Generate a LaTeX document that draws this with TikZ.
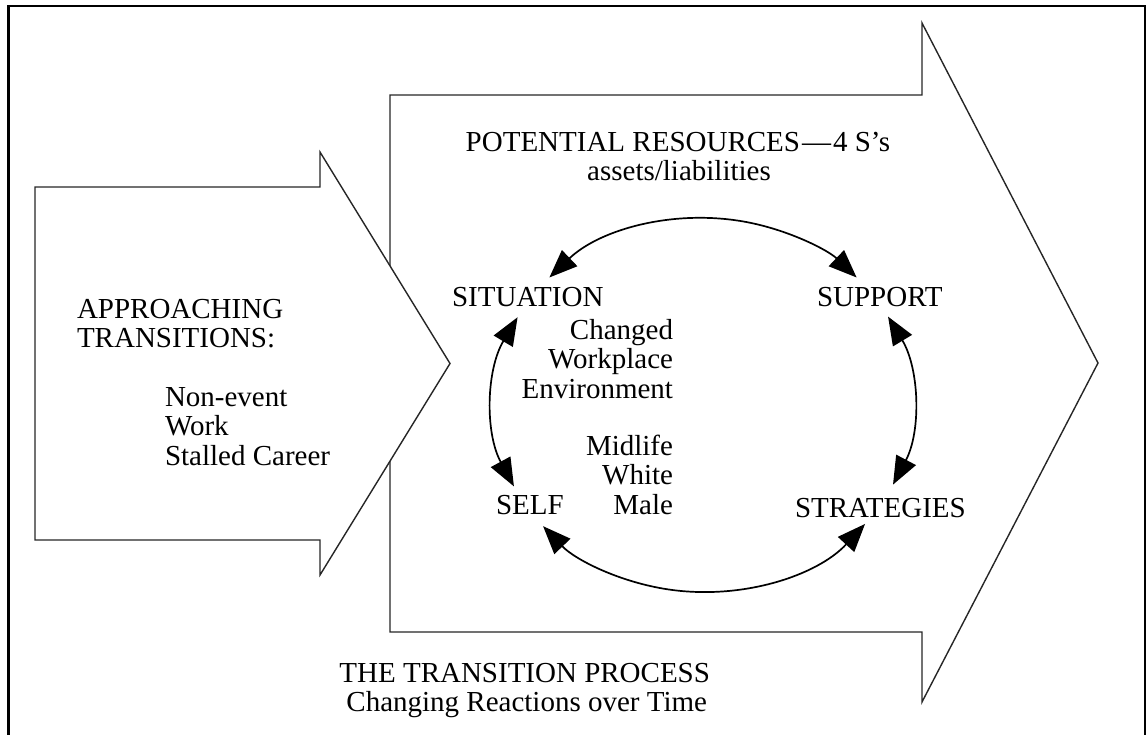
\documentclass[tikz,border=0pt]{standalone}
\usepackage{fontspec}
\setmainfont{Liberation Serif}
\usetikzlibrary{arrows.meta}
\begin{document}
\begin{tikzpicture}[x=1pt,y=1pt,
  lbl/.style={font=\fontsize{29}{30}\selectfont, inner sep=0pt, outer sep=0pt},
  bigarrow/.style={draw=black!85, line width=1.4pt, fill=white, line join=miter},
  frameline/.style={draw=black, line width=2.4pt, line join=miter},
  cyc/.style={line width=1.7pt, {Triangle[length=28pt,width=22pt]}-{Triangle[length=28pt,width=22pt]}}
]
\useasboundingbox (0,0) rectangle (1148,-734);
% outer frame (open at the bottom)
\draw[frameline] (8.3,-735) -- (8.3,-6.2) -- (1144.7,-6.2) -- (1144.7,-735);

% big arrow: the transition process
\draw[bigarrow] (390,-95) -- (922,-95) -- (922,-23) -- (1098,-363) -- (922,-702) -- (922,-632) -- (390,-632) -- cycle;
% small arrow: approaching transitions
\draw[bigarrow] (35,-187) -- (320,-187) -- (320,-152) -- (450,-363.5) -- (320,-575) -- (320,-540) -- (35,-540) -- cycle;

% texts
\node[lbl, anchor=base] (title) at (678,-151) {POTENTIAL RESOURCES\kern2pt—\kern2pt4 S’s};
\node[lbl, anchor=base] (assets) at (679,-180) {assets/liabilities};

\node[lbl, anchor=base west] (sit) at (452,-306) {SITUATION};
\node[lbl, anchor=base west] (sup) at (817,-306) {SUPPORT};
\node[lbl, anchor=base west] (self) at (496,-514) {SELF};
\node[lbl, anchor=base west] (str) at (795,-517) {STRATEGIES};

\node[lbl, anchor=base east] (chg1) at (673,-339) {Changed};
\node[lbl, anchor=base east] (chg2) at (673,-368) {Workplace};
\node[lbl, anchor=base east] (chg3) at (673,-398) {Environment};

\node[lbl, anchor=base east] (mid1) at (673,-455) {Midlife};
\node[lbl, anchor=base east] (mid2) at (673,-484) {White};
\node[lbl, anchor=base east] (mid3) at (673,-514) {Male};

\node[lbl, anchor=base west] (appr1) at (77,-318) {APPROACHING};
\node[lbl, anchor=base west] (appr2) at (77,-347) {TRANSITIONS:};

\node[lbl, anchor=base west] (ne1) at (165,-406) {Non-event};
\node[lbl, anchor=base west] (ne2) at (165,-435) {Work};
\node[lbl, anchor=base west] (ne3) at (165,-465) {Stalled Career};

\node[lbl, anchor=base east] (proc1) at (710,-682) {THE TRANSITION PROCESS};
\node[lbl, anchor=base east] (proc2) at (707,-711) {Changing Reactions over Time};

% cycle of the 4 S's
\coordinate (cc) at (703,-405);
\draw[cyc] ([shift={(137:210 and 187)}]cc) arc[start angle=137, end angle=43, x radius=210, y radius=187];
\draw[cyc] ([shift={(28.2:210 and 187)}]cc) arc[start angle=28.2, end angle=-25.2, x radius=210, y radius=187];
\draw[cyc] ([shift={(-39.5:210 and 187)}]cc) arc[start angle=-39.5, end angle=-139.6, x radius=210, y radius=187];
\draw[cyc] ([shift={(152:210 and 187)}]cc) arc[start angle=152, end angle=205.8, x radius=210, y radius=187];
\end{tikzpicture}
\end{document}
